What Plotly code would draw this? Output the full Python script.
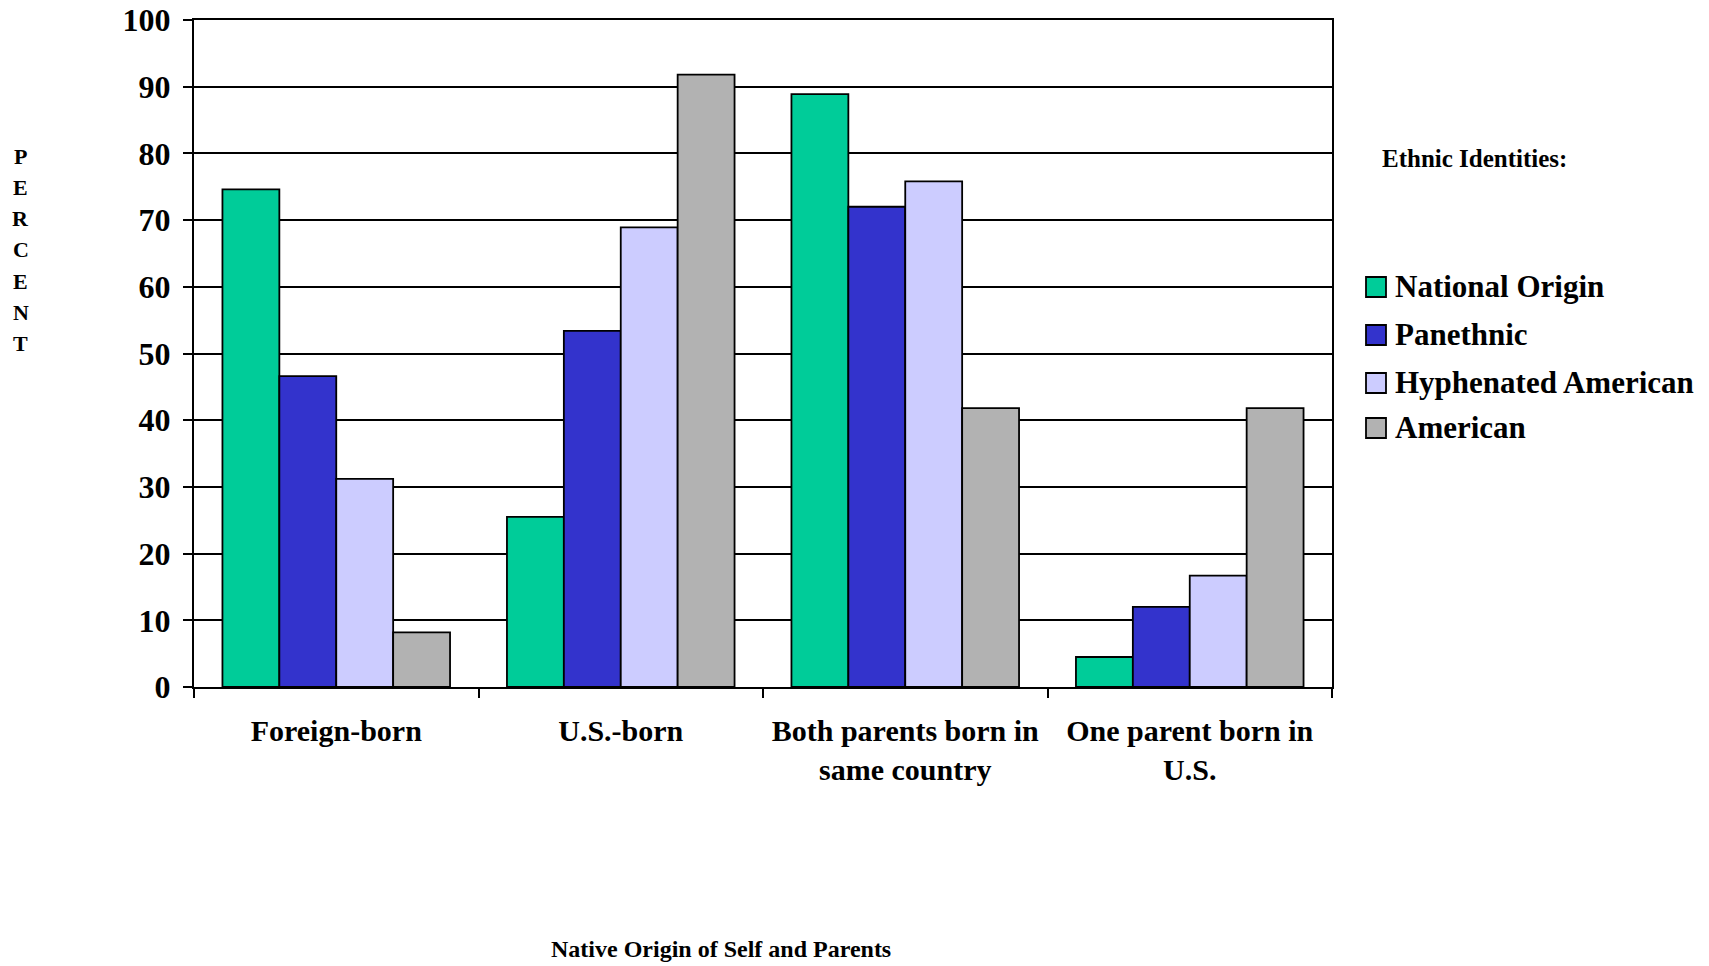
import plotly.graph_objects as go

# Categories and series values (percent)
categories = ["Foreign-born", "U.S.-born", "Both parents born in<br>same country", "One parent born in<br>U.S."]
series_names = ["National Origin", "Panethnic", "Hyphenated American", "American"]
national_origin = [74.6, 25.5, 88.9, 4.5]
panethnic = [46.6, 53.4, 72.0, 12.0]
hyphenated_american = [31.2, 68.9, 75.8, 16.7]
american = [8.2, 91.8, 41.8, 41.8]
y_ticks = [0, 10, 20, 30, 40, 50, 60, 70, 80, 90, 100]

colors = ["#00CC99", "#3333CC", "#CCCCFF", "#B2B2B2"]
FONT = "Liberation Serif, Times New Roman, serif"

W, H = 1709, 966
L, R, T, B = 194, 1332, 20, 687  # plot area in pixels


def px_x(x):
    return (x - L) / (R - L)


def px_y(y):
    return (B - y) / (B - T)


fig = go.Figure()
for name, vals, col in zip(series_names,
                           [national_origin, panethnic, hyphenated_american, american],
                           colors):
    fig.add_trace(go.Bar(
        x=categories, y=vals, name=name, showlegend=False,
        marker=dict(color=col, line=dict(color="black", width=1.8)),
    ))

fig.update_layout(
    width=W, height=H,
    margin=dict(l=L, r=W - R, t=T, b=H - B),
    paper_bgcolor="white", plot_bgcolor="white",
    barmode="group", bargap=0.2, bargroupgap=0,
    font=dict(family=FONT, color="black"),
)

fig.update_xaxes(
    automargin=False,
    showline=True, mirror=True, linecolor="black", linewidth=2,
    ticks="outside", tickson="boundaries", ticklen=9, tickwidth=2, tickcolor="black",
    tickfont=dict(family=FONT, size=30, color="black", weight="bold"),
    ticklabelstandoff=16,
    showgrid=False,
)
fig.update_yaxes(
    automargin=False,
    range=[0, 100], tickvals=y_ticks,
    showline=True, mirror=True, linecolor="black", linewidth=2,
    ticks="outside", ticklen=9, tickwidth=2, tickcolor="black",
    tickfont=dict(family=FONT, size=32, color="black", weight="bold"),
    ticklabelstandoff=6,
    showgrid=True, gridcolor="black", gridwidth=2,
    zeroline=False,
)

annotations = []
shapes = []

# Vertical "PERCENT" axis label, one letter per line
for i, ch in enumerate("PERCENT"):
    annotations.append(dict(
        x=px_x(21), y=px_y(156 + i * 31.3), xref="paper", yref="paper",
        text=f"<b>{ch}</b>", showarrow=False,
        font=dict(family=FONT, size=22, color="black"),
        xanchor="center", yanchor="middle",
    ))

# X-axis title
annotations.append(dict(
    x=px_x(721), y=px_y(949), xref="paper", yref="paper",
    text="<b>Native Origin of Self and Parents</b>", showarrow=False,
    font=dict(family=FONT, size=24, color="black"),
    xanchor="center", yanchor="middle",
))

# Legend title
annotations.append(dict(
    x=px_x(1380), y=px_y(159), xref="paper", yref="paper",
    text="<b>Ethnic Identities:</b>", showarrow=False,
    font=dict(family=FONT, size=25, color="black"),
    xanchor="left", yanchor="middle",
))

# Legend entries
legend_y = [287, 335, 383, 428]
for name, col, ly in zip(series_names, colors, legend_y):
    shapes.append(dict(
        type="rect", xref="paper", yref="paper",
        x0=px_x(1366), x1=px_x(1386), y0=px_y(ly + 10), y1=px_y(ly - 10),
        fillcolor=col, line=dict(color="black", width=1.8),
    ))
    annotations.append(dict(
        x=px_x(1393), y=px_y(ly - 1), xref="paper", yref="paper",
        text=f"<b>{name}</b>", showarrow=False,
        font=dict(family=FONT, size=31, color="black"),
        xanchor="left", yanchor="middle",
    ))

fig.update_layout(annotations=annotations, shapes=shapes)

fig.write_html("out.html")
